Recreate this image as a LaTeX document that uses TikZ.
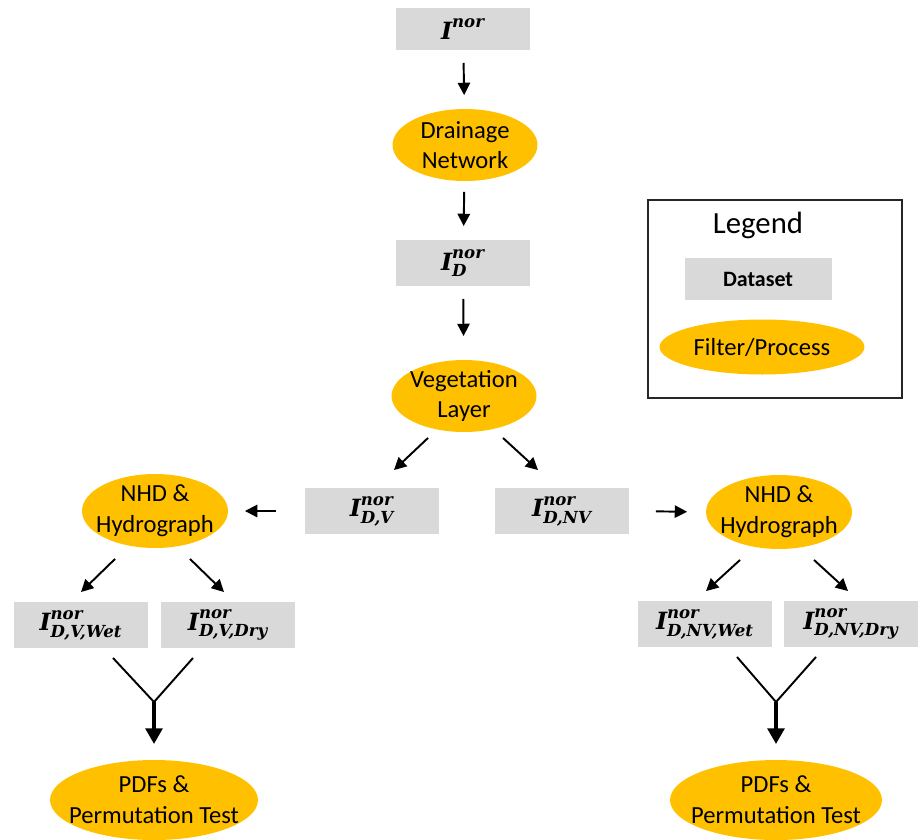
\documentclass[tikz,border=0pt]{standalone}
\usepackage{amsmath}
\usepackage{fontspec}
\setmainfont{Carlito}
\newfontfamily\lblfont{DejaVu Serif}
\usetikzlibrary{shapes.geometric,arrows.meta}
\definecolor{dsgray}{HTML}{D9D9D9}
\definecolor{procgold}{HTML}{FFC000}
\newcommand{\bi}[1]{\text{\lblfont\bfseries\itshape #1}}
\newcommand{\Inor}{$\bi{I}^{\bi{nor}}$}
\newcommand{\Isub}[1]{$\bi{I}^{\bi{nor}}_{\bi{#1}}$}

\begin{document}
\begin{tikzpicture}[x=0.02cm, y=-0.02cm, line width=1.1pt]
        \tikzstyle{dataset} = [fill=dsgray, minimum width=2.68cm, minimum height=0.92cm, inner sep=0pt, font=\fontsize{13.5}{16}\selectfont]
        \tikzstyle{process} = [ellipse, fill=procgold, minimum width=2.9cm, minimum height=1.44cm, inner xsep=-30pt, inner ysep=-12pt, align=center, font=\fontsize{14}{17.5}\selectfont]
        \tikzstyle{arr} = [-{Triangle[width=7pt, length=7pt]}]
        \tikzstyle{fatarr} = [line width=2.4pt, -{Triangle[width=9.5pt, length=9pt]}]
        \useasboundingbox (0,0) rectangle (918,839);
        % main column
        \node[dataset, minimum height=0.84cm] (I) at (463, 29) {\Inor};
        \node[process] (drain) at (465, 145) {Drainage\\Network};
        \node[dataset] (ID) at (463, 263) {\Isub{D}};
        \node[process] (veg) at (464, 396) {Vegetation\\Layer};
        \node[dataset] (IDV) at (372, 511) {\Isub{D,V}};
        \node[dataset] (IDNV) at (562, 511) {\Isub{D,NV}};
        \draw[arr, shorten <=0.24cm, shorten >=0.26cm] (I) -- (drain);
        \draw[arr, shorten <=0.2cm, shorten >=0.26cm] (drain) -- (ID);
        \draw[arr, shorten <=0.24cm, shorten >=0.46cm] (ID) -- (veg);
        \draw[arr] ([shift={(-36, 5)}]veg.south) -- ([shift={(22, -17)}]IDV.north);
        \draw[arr] ([shift={(39, 5)}]veg.south) -- ([shift={(-24, -17)}]IDNV.north);
        % left branch
        \node[process, minimum width=2.92cm, minimum height=1.48cm] (nhdL) at (155, 511) {NHD \&\\Hydrograph};
        \node[dataset] (wetL) at (81, 625) {\Isub{D,V,Wet}};
        \node[dataset] (dryL) at (228, 625) {\Isub{D,V,Dry}};
        \node[process, minimum width=4.16cm, minimum height=1.6cm] (pdfL) at (154, 800) {PDFs \&\\Permutation Test};
        \coordinate (mL) at (154, 702);
        \draw[arr, shorten <=0.56cm, shorten >=0.32cm] (IDV.west) -- (nhdL.east);
        \draw[arr] ([shift={(-40, 10)}]nhdL.south) -- ([shift={(0, -9)}]wetL.north);
        \draw[arr] ([shift={(35, 10)}]nhdL.south) -- ([shift={(-4, -9)}]dryL.north);
        \draw ([shift={(32, 9)}]wetL.south) -- (mL) -- ([shift={(-35, 9)}]dryL.south);
        \draw[fatarr, shorten >=0.3cm] (mL) -- (pdfL.north);
        % right branch
        \node[process, minimum width=2.92cm, minimum height=1.48cm] (nhdR) at (779, 512) {NHD \&\\Hydrograph};
        \node[dataset] (wetR) at (705, 624) {\Isub{D,NV,Wet}};
        \node[dataset] (dryR) at (851, 624) {\Isub{D,NV,Dry}};
        \node[process, minimum width=4.24cm, minimum height=1.6cm] (pdfR) at (776, 800) {PDFs \&\\Permutation Test};
        \coordinate (mR) at (776, 702);
        \draw[arr, shorten <=0.52cm, shorten >=0.36cm] (IDNV.east) -- (nhdR.west);
        \draw[arr] ([shift={(-39, 10)}]nhdR.south) -- ([shift={(1, -9)}]wetR.north);
        \draw[arr] ([shift={(35, 10)}]nhdR.south) -- ([shift={(-3, -9)}]dryR.north);
        \draw ([shift={(32, 9)}]wetR.south) -- (mR) -- ([shift={(-35, 9)}]dryR.south);
        \draw[fatarr, shorten >=0.3cm] (mR) -- (pdfR.north);
        % legend
        \node[draw=black!85, line width=0.9pt, minimum width=5.08cm, minimum height=3.96cm] (legend) at (775, 299) {};
        \node[font=\fontsize{17.5}{19}\selectfont] (legtitle) at (758, 225) {Legend};
        \node[dataset, minimum width=2.94cm, minimum height=0.84cm, font=\fontsize{12.5}{14}\bfseries] (legds) at (758, 279) {Dataset};
        \node[process, minimum width=4.1cm, minimum height=1.1cm, font=\fontsize{14}{16}\selectfont] (legproc) at (762, 347) {Filter/Process};
\end{tikzpicture}
\end{document}
